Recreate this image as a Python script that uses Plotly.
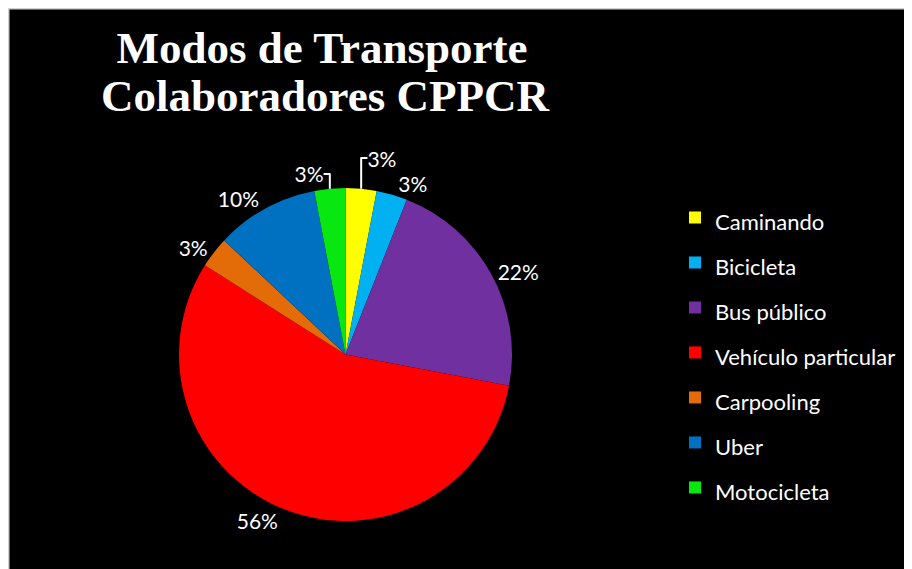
import plotly.graph_objects as go

categories = ["Caminando", "Bicicleta", "Bus público", "Vehículo particular",
              "Carpooling", "Uber", "Motocicleta"]
values = [3, 3, 22, 56, 3, 10, 3]
colors = ["#FFFF00", "#00B0F0", "#7030A0", "#FF0000", "#E36C09", "#0070C0", "#08E810"]
title_lines = ["Modos de Transporte", "Colaboradores CPPCR"]

W, H = 912, 569
OFF = 8  # page body margin
LEG_FONT = 32.3
legend_labels = ['<span style="font-size:22px">' + c + '</span>' for c in categories]


def px(x):
    return (x - OFF) / W


def py(y):
    return 1 - (y - OFF) / H


fig = go.Figure(go.Pie(
    labels=legend_labels,
    values=values,
    marker=dict(colors=colors, line=dict(width=0)),
    sort=False,
    direction="clockwise",
    rotation=0,
    textposition="outside",
    texttemplate="%{percent:.0%}",
    textfont=dict(family="Lato", size=21, color="white"),
    outsidetextfont=dict(family="Lato", size=21, color="white"),
    hoverinfo="skip",
    domain=dict(x=[px(179), px(512)], y=[py(521), py(188)]),
    automargin=False,
))

fig.update_layout(
    width=W, height=H,
    margin=dict(l=0, r=0, t=0, b=0),
    paper_bgcolor="#000000",
    plot_bgcolor="#000000",
    title=dict(text="<b>" + title_lines[0] + "</b>",
               font=dict(family="Liberation Serif", size=45, color="white"),
               x=px(322), xanchor="center", xref="paper",
               y=py(47), yanchor="middle", yref="container"),
    annotations=[dict(text="<b>" + title_lines[1] + "</b>",
                      font=dict(family="Liberation Serif", size=45, color="white"),
                      x=px(325), xanchor="center", xref="paper",
                      y=py(96), yanchor="middle", yref="paper",
                      showarrow=False)],
    legend=dict(x=px(675), xanchor="left", y=py(190), yanchor="top",
                font=dict(family="Lato", size=LEG_FONT, color="white"),
                bgcolor="rgba(0,0,0,0)", itemclick=False),
    shapes=[
        dict(type="rect", xref="paper", yref="paper", x0=0, x1=1, y0=1 - 1.5 / H, y1=1,
             fillcolor="#D0D0D0", line=dict(width=0), layer="above"),
        dict(type="rect", xref="paper", yref="paper", x0=0, x1=1.5 / W, y0=0, y1=1,
             fillcolor="#D0D0D0", line=dict(width=0), layer="above"),
    ],
)

fig.write_html("out.html")
